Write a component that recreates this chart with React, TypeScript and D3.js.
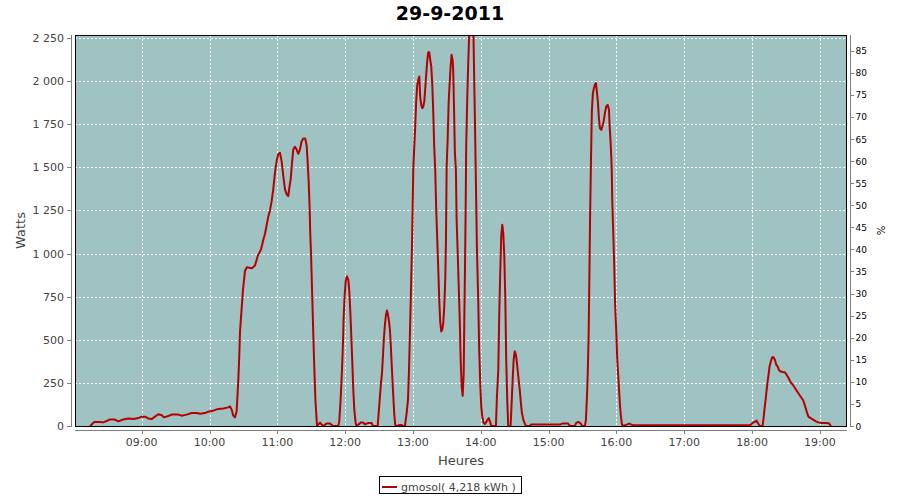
import React from "react";
import * as d3 from "d3";

const chartTitle = "29-9-2011";
const seriesName = "gmosol( 4,218 kWh )";
const yAxisLabel = "Watts";
const xAxisLabel = "Heures";
const y2AxisLabel = "%";

// minutes since midnight
const sampleMinutes = [
  494.3, 498.1, 503.1, 506.0, 509.0, 512.0, 516.4, 519.3, 523.7, 528.1, 532.6, 537.0,
  540.0, 542.9, 545.8, 548.8, 551.8, 554.7, 557.7, 559.7, 563.5, 566.5, 572.4, 575.4,
  579.8, 584.2, 588.7, 591.6, 596.0, 598.9, 603.3, 607.8, 612.2, 616.6, 618.1, 619.6,
  621.0, 622.5, 624.0, 624.6, 625.5, 626.3, 627.0, 628.5, 629.6, 631.4, 633.1, 637.6,
  640.2, 642.9, 645.5, 647.6, 649.1, 650.6, 652.0, 653.5, 655.0, 656.4, 657.9, 659.4,
  660.8, 662.3, 663.8, 665.3, 666.8, 668.3, 669.7, 670.6, 671.8, 673.0, 674.1, 675.6,
  677.1, 678.5, 680.0, 681.5, 683.0, 684.7, 686.0, 686.8, 687.7, 688.6, 689.1, 689.8,
  691.1, 692.4, 693.7, 695.1, 697.7, 700.4, 703.9, 706.6, 709.2, 713.9, 714.8, 716.0,
  717.2, 718.1, 718.7, 719.6, 720.5, 721.6, 722.8, 723.6, 724.5, 725.4, 726.3, 727.2,
  728.1, 729.3, 730.2, 734.0, 735.8, 737.5, 740.2, 743.5, 744.6, 748.8, 749.9, 750.8,
  751.7, 752.6, 753.5, 754.3, 755.2, 756.1, 757.0, 757.9, 758.8, 759.6, 760.5, 761.4,
  762.3, 763.4, 764.3, 765.6, 768.5, 770.0, 771.1, 772.9, 774.4, 775.6, 776.5, 777.3,
  778.2, 779.1, 780.3, 781.1, 782.0, 782.9, 783.8, 784.7, 785.6, 786.4, 787.3, 788.2,
  789.1, 790.0, 790.9, 791.8, 792.6, 793.5, 794.4, 795.3, 796.2, 797.1, 797.9, 798.8,
  799.7, 800.6, 801.5, 802.4, 803.3, 804.1, 805.0, 805.9, 806.8, 807.7, 808.6, 809.2,
  809.8, 810.7, 811.6, 812.5, 813.3, 814.2, 815.1, 815.6, 816.3, 817.1, 818.0, 818.6,
  819.5, 820.4, 821.3, 822.2, 823.1, 824.0, 824.9, 825.4, 826.0, 826.6, 827.1, 828.0,
  828.9, 829.8, 830.4, 833.3, 833.9, 834.8, 835.7, 836.6, 837.8, 838.6, 839.5, 840.4,
  841.3, 842.5, 843.7, 845.2, 847.0, 848.1, 849.3, 853.4, 854.3, 855.5, 856.3, 857.2,
  858.1, 859.0, 859.9, 860.8, 861.7, 862.5, 863.4, 864.3, 866.4, 867.3, 868.2, 869.1,
  870.0, 871.1, 872.0, 872.9, 873.8, 874.6, 875.5, 876.4, 877.6, 878.8, 879.9, 883.5,
  884.4, 910.0, 912.7, 917.1, 918.9, 923.3, 924.2, 926.2, 928.3, 929.8, 932.1, 933.0,
  933.7, 934.5, 935.4, 935.9, 936.6, 937.5, 938.3, 939.2, 940.1, 941.0, 941.9, 942.5,
  943.6, 944.5, 945.4, 946.6, 947.5, 948.7, 949.8, 951.0, 952.3, 953.4, 954.0, 954.9,
  955.8, 956.3, 957.2, 958.1, 958.9, 959.8, 960.7, 962.0, 963.1, 964.0, 964.9, 966.0,
  969.0, 971.3, 973.4, 974.9, 1078.1, 1079.6, 1081.9, 1084.0, 1085.4, 1086.9, 1089.3, 1090.2,
  1091.1, 1092.0, 1092.9, 1093.8, 1094.6, 1095.5, 1096.7, 1097.8, 1099.1, 1100.2, 1101.4, 1102.6,
  1103.8, 1104.9, 1107.0, 1109.1, 1110.6, 1112.3, 1114.1, 1116.4, 1118.5, 1120.8, 1123.2, 1125.2,
  1126.8, 1128.3, 1129.7, 1131.8, 1134.1, 1136.5, 1138.5, 1141.5, 1145.9, 1148.3, 1149.8,
];

const sampleWatts = [
  0, 23, 23, 21, 29, 38, 37, 27, 38, 44, 40, 46,
  54, 54, 44, 40, 54, 68, 62, 50, 58, 66, 66, 60,
  66, 75, 75, 71, 75, 83, 89, 99, 102, 108, 114, 95,
  60, 50, 85, 157, 270, 400, 550, 686, 790, 900, 920, 915,
  930, 990, 1022, 1080, 1115, 1166, 1214, 1250, 1305, 1372, 1468, 1536,
  1575, 1584, 1536, 1449, 1372, 1343, 1333, 1381, 1430, 1526, 1603, 1619,
  1603, 1578, 1603, 1651, 1667, 1667, 1623, 1536, 1420, 1265, 1120, 1003,
  700, 400, 150, 0, 20, 0, 15, 15, 0, 0, 27, 153,
  326, 481, 635, 761, 839, 868, 848, 790, 674, 529, 375, 210,
  95, 17, 0, 21, 21, 10, 17, 17, 0, 0, 95, 172,
  250, 307, 413, 510, 587, 645, 670, 645, 607, 558, 452, 326,
  210, 75, 6, 0, 6, 6, 0, 0, 75, 153, 326, 533,
  771, 1032, 1495, 1611, 1737, 1891, 1978, 2007, 2026, 1910, 1862, 1843,
  1852, 1881, 1959, 2046, 2113, 2167, 2167, 2123, 2084, 1978, 1833, 1621,
  1486, 1250, 1080, 907, 723, 607, 548, 558, 597, 694, 858, 1080,
  1505, 1660, 1881, 1988, 2084, 2152, 2123, 2065, 1852, 1582, 1485, 1200,
  1022, 829, 636, 384, 230, 175, 307, 597, 900, 1250, 1621, 1891,
  2104, 2280, 2350, 2350, 2123, 1775, 1408, 1022, 713, 443, 250, 114,
  56, 17, 12, 27, 46, 27, 0, 0, 172, 327, 636, 887,
  1100, 1167, 1119, 984, 733, 385, 153, 0, 0, 133, 269, 385,
  433, 414, 365, 307, 250, 201, 133, 75, 37, 17, 0, 0,
  8, 8, 15, 15, 0, 0, 15, 25, 15, 0, 0, 35,
  133, 268, 519, 771, 1157, 1543, 1833, 1930, 1959, 1978, 1988, 1949,
  1882, 1785, 1727, 1717, 1737, 1766, 1814, 1853, 1862, 1833, 1737, 1640,
  1505, 1312, 1118, 925, 693, 560, 394, 249, 123, 56, 8, 0,
  8, 14, 8, 4, 4, 12, 23, 31, 14, 0, 0, 46,
  104, 153, 210, 259, 297, 346, 375, 398, 398, 384, 355, 346,
  326, 317, 313, 311, 297, 278, 255, 236, 214, 191, 168, 149,
  118, 85, 56, 46, 37, 27, 21, 17, 17, 14, 0,
];

const wattTicks = [0, 250, 500, 750, 1000, 1250, 1500, 1750, 2000, 2250];
const percentTicks = [0, 5, 10, 15, 20, 25, 30, 35, 40, 45, 50, 55, 60, 65, 70, 75, 80, 85];
const hourTicks = ["09:00", "10:00", "11:00", "12:00", "13:00", "14:00", "15:00", "16:00", "17:00", "18:00", "19:00"];
const timeDomain = [481, 1164];
const wattMax = 2267;
const peakPower = 2560;

const FONT = "'DejaVu Sans', Verdana, sans-serif";

export default function App() {
  const W = 900, H = 500;
  const L = 75, R = 847, T = 35, B = 426;
  const x = d3.scaleLinear().domain(timeDomain).range([L, R]);
  const y = d3.scaleLinear().domain([0, wattMax]).range([B, T]);
  const yp = d3.scaleLinear().domain([0, (wattMax / peakPower) * 100]).range([B, T]);
  const pts: [number, number][] = sampleMinutes.map((m, i) => [m, sampleWatts[i]]);
  const line = d3.line<[number, number]>().x((d) => x(d[0])).y((d) => y(d[1]));
  const fmtW = (v: number) => d3.format(",")(v).replace(/,/g, " ");
  const hourToMin = (s: string) => {
    const [h, m] = s.split(":").map(Number);
    return h * 60 + m;
  };
  const crisp = (v: number) => Math.round(v) + 0.5;

  return (
    <svg width={W} height={H} style={{ position: "absolute", left: 0, top: 0, background: "#fff" }} fontFamily={FONT}>
      <rect x={0} y={0} width={W} height={H} fill="#fff" />
      <defs>
        <clipPath id="plotclip">
          <rect x={L} y={T} width={R - L} height={B - T} />
        </clipPath>
      </defs>
      <text x={450} y={20} textAnchor="middle" fontSize={19} fontWeight="bold" fill="#000">{chartTitle}</text>

      <rect x={L} y={T} width={R - L} height={B - T} fill="#9fc3c2" />
      {wattTicks.filter((t) => t > 0).map((t) => (
        <line key={"gy" + t} x1={L} x2={R} y1={crisp(y(t))} y2={crisp(y(t))} stroke="#fff" strokeWidth={1} strokeDasharray="2,2" />
      ))}
      {hourTicks.map((h) => (
        <line key={"gx" + h} x1={crisp(x(hourToMin(h)))} x2={crisp(x(hourToMin(h)))} y1={T} y2={B} stroke="#fff" strokeWidth={1} strokeDasharray="2,2" />
      ))}
      <path d={line(pts) || ""} fill="none" stroke="#b40000" strokeWidth={2} strokeLinejoin="round" clipPath="url(#plotclip)" />
      <rect x={L + 0.5} y={T + 0.5} width={R - L - 1} height={B - T} fill="none" stroke="#000" strokeWidth={1} />

      {/* left axis */}
      <line x1={71.5} x2={71.5} y1={T} y2={B + 1} stroke="#808080" />
      {wattTicks.map((t) => (
        <g key={"ly" + t}>
          <line x1={67} x2={71} y1={crisp(y(t))} y2={crisp(y(t))} stroke="#808080" />
          <text x={64} y={y(t) + 4} textAnchor="end" fontSize={11} fill="#444">{fmtW(t)}</text>
        </g>
      ))}
      <text transform={`translate(25,${(T + B) / 2}) rotate(-90)`} textAnchor="middle" fontSize={13} fill="#444">{yAxisLabel}</text>

      {/* bottom axis */}
      <line x1={L} x2={R} y1={430.5} y2={430.5} stroke="#808080" />
      {hourTicks.map((h) => (
        <g key={"bx" + h}>
          <line x1={crisp(x(hourToMin(h)))} x2={crisp(x(hourToMin(h)))} y1={430} y2={434} stroke="#808080" />
          <text x={x(hourToMin(h))} y={446} textAnchor="middle" fontSize={11} fill="#444">{h}</text>
        </g>
      ))}
      <text x={(L + R) / 2} y={465} textAnchor="middle" fontSize={13} fill="#444">{xAxisLabel}</text>

      {/* right axis */}
      <line x1={850.5} x2={850.5} y1={T} y2={B + 1} stroke="#808080" />
      {percentTicks.map((t) => (
        <g key={"ry" + t}>
          <line x1={850} x2={854} y1={crisp(yp(t))} y2={crisp(yp(t))} stroke="#808080" />
          <text x={855.5} y={yp(t) + 3.5} textAnchor="start" fontSize={9} fill="#000">{t}</text>
        </g>
      ))}
      <text transform={`translate(877,${(T + B) / 2}) rotate(90)`} textAnchor="middle" fontSize={10} fill="#000">{y2AxisLabel}</text>

      {/* legend */}
      <rect x={379.5} y={476.5} width={142} height={17} fill="#fff" stroke="#000" />
      <line x1={382} x2={397} y1={487} y2={487} stroke="#b40000" strokeWidth={2} />
      <text x={401} y={491} fontSize={11} fill="#444">{seriesName}</text>
    </svg>
  );
}
